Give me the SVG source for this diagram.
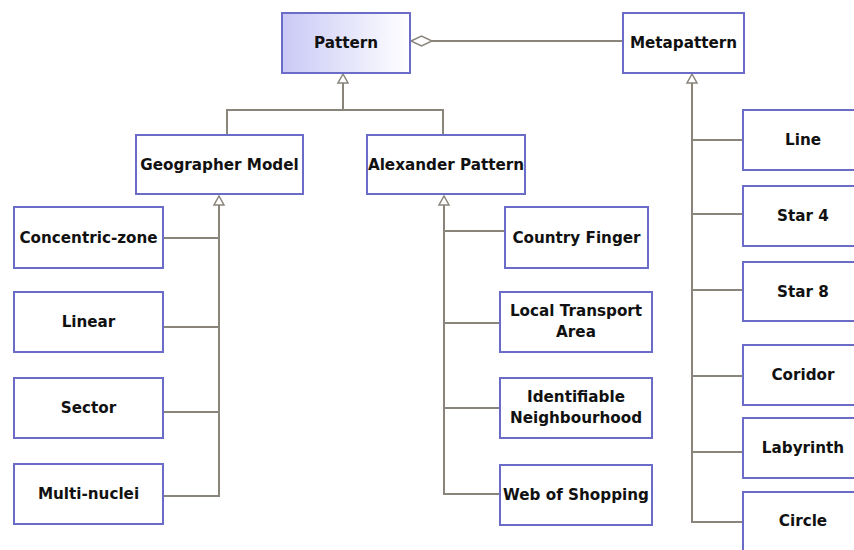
<svg xmlns="http://www.w3.org/2000/svg" width="854" height="550" viewBox="0 0 854 550">
  <defs>
    <linearGradient id="patternFill" x1="0" y1="0" x2="1" y2="0">
      <stop offset="0" stop-color="#c9c9f6"/>
      <stop offset="1" stop-color="#ffffff"/>
    </linearGradient>
    <style>
      .box { fill: #ffffff; stroke: #6b6bc8; stroke-width: 2; }
      .root { fill: url(#patternFill); }
      .lbl { font-family: "DejaVu Sans", "Liberation Sans", sans-serif; font-weight: bold; font-size: 15.2px; fill: #111111; text-anchor: middle; dominant-baseline: central; }
      .wire { fill: none; stroke: #8a857b; stroke-width: 2; }
      .head { fill: #ffffff; stroke: #8a857b; stroke-width: 1.5; }
    </style>
  </defs>
  <rect width="854" height="550" fill="#ffffff"/>

  <!-- connectors -->
  <g id="connectors">
    <!-- aggregation Metapattern -> Pattern -->
    <line class="wire" x1="432" y1="41" x2="623" y2="41"/>
    <polygon class="head" points="411,41 421.5,36 432,41 421.5,46"/>

    <!-- Pattern generalisation -->
    <polyline class="wire" points="227,135 227,110 443,110 443,135"/>
    <line class="wire" x1="343" y1="83" x2="343" y2="110"/>
    <polygon class="head" points="343,74 348,83 338,83"/>

    <!-- Geographer Model children -->
    <polyline class="wire" points="219,205 219,496 163,496"/>
    <line class="wire" x1="163" y1="238" x2="219" y2="238"/>
    <line class="wire" x1="163" y1="327" x2="219" y2="327"/>
    <line class="wire" x1="163" y1="412" x2="219" y2="412"/>
    <polygon class="head" points="219,196 224,205 214,205"/>

    <!-- Alexander Pattern children -->
    <polyline class="wire" points="444,205 444,494 500,494"/>
    <line class="wire" x1="444" y1="231" x2="505" y2="231"/>
    <line class="wire" x1="444" y1="323" x2="500" y2="323"/>
    <line class="wire" x1="444" y1="408" x2="500" y2="408"/>
    <polygon class="head" points="444,196 449,205 439,205"/>

    <!-- Metapattern children -->
    <polyline class="wire" points="692,83 692,522 743,522"/>
    <line class="wire" x1="692" y1="140" x2="743" y2="140"/>
    <line class="wire" x1="692" y1="214" x2="743" y2="214"/>
    <line class="wire" x1="692" y1="290" x2="743" y2="290"/>
    <line class="wire" x1="692" y1="376" x2="743" y2="376"/>
    <line class="wire" x1="692" y1="452" x2="743" y2="452"/>
    <polygon class="head" points="692,74 697,83 687,83"/>
  </g>

  <g id="pattern">
    <rect class="box root" x="282" y="13" width="128" height="60"/>
    <text class="lbl" x="346" y="43">Pattern</text>
  </g>
  <g id="metapattern">
    <rect class="box" x="623" y="13" width="121" height="60"/>
    <text class="lbl" x="683.5" y="43">Metapattern</text>
  </g>

  <g id="geographer-model">
    <rect class="box" x="136" y="135" width="167" height="59"/>
    <text class="lbl" x="219.5" y="164.5">Geographer Model</text>
  </g>
  <g id="alexander-pattern">
    <rect class="box" x="367" y="135" width="158" height="59"/>
    <text class="lbl" x="446" y="164.5">Alexander Pattern</text>
  </g>

  <g id="concentric-zone">
    <rect class="box" x="14" y="207" width="149" height="61"/>
    <text class="lbl" x="88.5" y="237.5">Concentric-zone</text>
  </g>
  <g id="linear">
    <rect class="box" x="14" y="292" width="149" height="60"/>
    <text class="lbl" x="88.5" y="322">Linear</text>
  </g>
  <g id="sector">
    <rect class="box" x="14" y="378" width="149" height="60"/>
    <text class="lbl" x="88.5" y="408">Sector</text>
  </g>
  <g id="multi-nuclei">
    <rect class="box" x="14" y="464" width="149" height="60"/>
    <text class="lbl" x="88.5" y="494">Multi-nuclei</text>
  </g>

  <g id="country-finger">
    <rect class="box" x="505" y="207" width="143" height="61"/>
    <text class="lbl" x="576.5" y="237.5">Country Finger</text>
  </g>
  <g id="local-transport-area">
    <rect class="box" x="500" y="292" width="152" height="60"/>
    <text class="lbl" x="576" y="311">Local Transport</text>
    <text class="lbl" x="576" y="332">Area</text>
  </g>
  <g id="identifiable-neighbourhood">
    <rect class="box" x="500" y="378" width="152" height="60"/>
    <text class="lbl" x="576" y="397">Identifiable</text>
    <text class="lbl" x="576" y="418">Neighbourhood</text>
  </g>
  <g id="web-of-shopping">
    <rect class="box" x="500" y="465" width="152" height="60"/>
    <text class="lbl" x="576" y="495">Web of Shopping</text>
  </g>

  <g id="line">
    <rect class="box" x="743" y="110" width="120" height="60"/>
    <text class="lbl" x="803" y="140">Line</text>
  </g>
  <g id="star-4">
    <rect class="box" x="743" y="186" width="120" height="60"/>
    <text class="lbl" x="803" y="216">Star 4</text>
  </g>
  <g id="star-8">
    <rect class="box" x="743" y="262" width="120" height="59"/>
    <text class="lbl" x="803" y="291.5">Star 8</text>
  </g>
  <g id="coridor">
    <rect class="box" x="743" y="345" width="120" height="60"/>
    <text class="lbl" x="803" y="375">Coridor</text>
  </g>
  <g id="labyrinth">
    <rect class="box" x="743" y="418" width="120" height="60"/>
    <text class="lbl" x="803" y="448">Labyrinth</text>
  </g>
  <g id="circle">
    <rect class="box" x="743" y="492" width="120" height="60"/>
    <text class="lbl" x="803" y="521">Circle</text>
  </g>
</svg>
